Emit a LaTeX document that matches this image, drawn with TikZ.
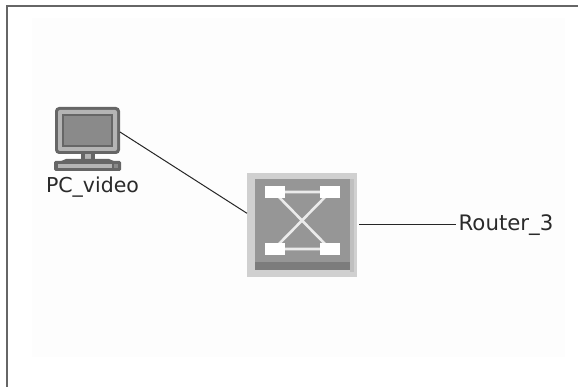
\documentclass[tikz,border=0pt]{standalone}
\usepackage{fontspec}
\setmainfont{DejaVu Sans}
\definecolor{framec}{HTML}{666666}
\definecolor{iconlight}{HTML}{B4B4B4}
\definecolor{icondark}{HTML}{666666}
\definecolor{iconmid}{HTML}{8A8A8A}
\definecolor{swface}{HTML}{969696}
\definecolor{swband}{HTML}{7C7C7C}
\definecolor{swedge}{HTML}{D0D0D0}
\definecolor{txt}{HTML}{2A2A2A}
\tikzset{
  link/.style={draw=black!85,line width=1pt},
  lbl/.style={font=\fontsize{20.5}{22}\selectfont,text=txt,inner sep=0pt},
  port/.style={fill=white,draw=none},
  wire/.style={draw=white!92!black,line width=2.6pt},
  holder/.style={draw=none,inner sep=0pt,outer sep=0pt}
}
\begin{document}
\begin{tikzpicture}[x=1pt,y=-1pt]
\useasboundingbox (0,0) rectangle (578,387);
\fill[white] (0,0) rectangle (578,387);
\fill[black!0.7] (32,18) rectangle (565,357);
\draw[framec,line width=1.6pt] (7,387) -- (7,6) -- (578,6);
% PC icon
\node[holder,minimum width=65pt,minimum height=50pt] (pc) at (87.5,132) {};
\fill[icondark,rounded corners=4pt] (55,107) rectangle (120,154);
\fill[iconlight,rounded corners=2pt] (58,110) rectangle (117,151);
\fill[icondark] (62,114) rectangle (113,147);
\fill[iconmid] (64,116) rectangle (111,145);
\fill[icondark] (81,154) rectangle (95,160);
\fill[iconlight] (85,154) rectangle (91,159);
\fill[icondark] (66,159) -- (109,159) -- (116,162) -- (59,162) -- cycle;
\fill[icondark,rounded corners=1.5pt] (54,161) rectangle (121,171);
\fill[iconlight] (58,164) rectangle (112,168);
\fill[iconmid] (114,164) rectangle (118,168);
\node[lbl] (pclabel) at (92.5,187) {PC\_video};
% Switch icon
\node[holder,minimum width=110pt,minimum height=104pt] (sw) at (302,225) {};
\fill[swedge] (247,173) rectangle (357,277);
\fill[swface] (255,179) rectangle (350,263);
\fill[swband] (255,262) rectangle (350,270);
\fill[black!25] (350,179) rectangle (354,272);
\draw[wire] (274,192) -- (330,192) -- (274,249) -- (330,249) -- cycle;
\fill[port] (265,186) rectangle (285,198);
\fill[port] (320,186) rectangle (340,198);
\fill[port] (265,243) rectangle (285,255);
\fill[port] (320,243) rectangle (340,255);
% Router label
\node[lbl,font=\fontsize{21.3}{23}\selectfont] (router) at (506,225) {Router\_3};
% Connectors
\draw[link] (pc.east) -- (sw.168);
\draw[link,shorten <=2pt,shorten >=2pt] (sw.east) -- (router.west);
\end{tikzpicture}
\end{document}
